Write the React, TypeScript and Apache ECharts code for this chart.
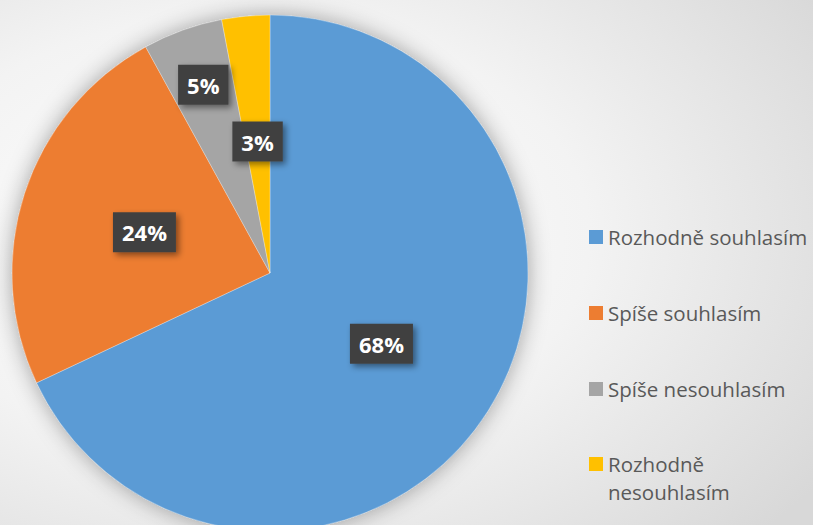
import React, { useEffect, useRef } from "react";
import * as echarts from "echarts";

const categories = [
  "Rozhodně souhlasím",
  "Spíše souhlasím",
  "Spíše nesouhlasím",
  "Rozhodně nesouhlasím",
];
const values = [68, 24, 5, 3];
const colors = ["#5B9BD5", "#ED7D31", "#A5A5A5", "#FFC000"];
const legendLabels = [
  "Rozhodně souhlasím",
  "Spíše souhlasím",
  "Spíše nesouhlasím",
  "Rozhodně\nnesouhlasím",
];

export default function App() {
  const ref = useRef<HTMLDivElement>(null);
  useEffect(() => {
    document.body.style.margin = "0";
    const chart = echarts.init(ref.current!, null, { renderer: "svg" });
    const labelBase = {
      show: true,
      position: "inside",
      formatter: "{c}%",
      color: "#ffffff",
      fontFamily: "Open Sans",
      fontWeight: "bold",
      fontSize: 22,
      lineHeight: 22,
      backgroundColor: "#414141",
      padding: [9, 9],
      shadowColor: "rgba(0,0,0,0.45)",
      shadowBlur: 6,
      shadowOffsetX: 3,
      shadowOffsetY: 3,
    };
    const legendText = {
      fontFamily: "Open Sans",
      fontSize: 20.5,
      color: "#595959",
      lineHeight: 28,
    };
    const fmt = (name: string) => legendLabels[categories.indexOf(name)];
    chart.setOption({
      animation: false,
      backgroundColor: new echarts.graphic.RadialGradient(0.3, 0.45, 0.85, [
        { offset: 0, color: "#ffffff" },
        { offset: 0.5, color: "#f3f3f3" },
        { offset: 1, color: "#d8d8d8" },
      ]),
      legend: [
        {
          orient: "vertical",
          left: 584,
          top: 218,
          itemWidth: 14,
          itemHeight: 14,
          itemGap: 48,
          icon: "rect",
          itemStyle: { borderWidth: 0 },
          data: categories.slice(0, 3),
          formatter: fmt,
          textStyle: legendText,
        },
        {
          orient: "vertical",
          left: 584,
          top: 445,
          itemWidth: 14,
          itemHeight: 42,
          itemStyle: { borderWidth: 0 },
          data: [
            {
              name: categories[3],
              icon: "path://M0,0L14,0L14,14L0,14Z M0,42L0.01,42",
            },
          ],
          formatter: fmt,
          textStyle: legendText,
        },
      ],
      series: [
        {
          type: "pie",
          name: "shadow",
          silent: true,
          z: 1,
          center: [270, 273],
          radius: 258,
          label: { show: false },
          labelLine: { show: false },
          itemStyle: {
            color: "#cccccc",
            shadowBlur: 22,
            shadowColor: "rgba(0,0,0,0.35)",
          },
          data: [{ value: 1, name: "__shadow" }],
        },
        {
          type: "pie",
          z: 2,
          center: [270, 273],
          radius: 258,
          startAngle: 90,
          clockwise: true,
          label: labelBase,
          labelLine: { show: false },
          itemStyle: { borderColor: "rgba(255,255,255,0.5)", borderWidth: 0.6 },
          data: categories.map((name, i) => ({
            name,
            value: values[i],
            itemStyle: { color: colors[i] },
            label: i === 2 ? { offset: [-22, -64] } : undefined,
          })),
        },
      ],
    });
    return () => chart.dispose();
  }, []);
  return <div ref={ref} style={{ width: 813, height: 525 }} />;
}
